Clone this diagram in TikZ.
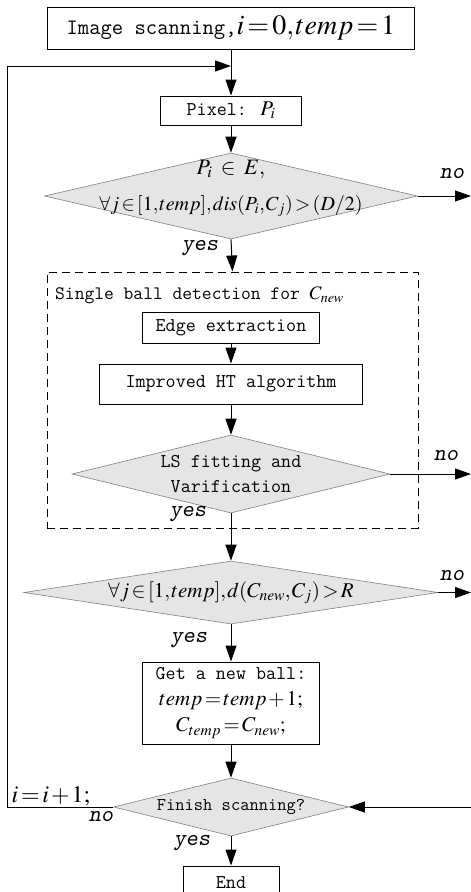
\documentclass[tikz,border=0pt]{standalone}
\usepackage{mathptmx}
\usepackage{fontspec}
\setmainfont{Liberation Serif}
\usetikzlibrary{shapes.geometric,arrows.meta}
\definecolor{decfill}{gray}{0.9}
\thickmuskip=2mu plus 1mu
\medmuskip=1.5mu plus 1mu
\thinmuskip=1mu
\tikzset{
  proc/.style={draw, line width=1pt, rectangle, inner sep=0pt, align=center,
    font=\ttfamily\fontsize{19.5}{26}\selectfont},
  decision/.style={draw=gray, line width=0.6pt, fill=decfill, diamond, inner sep=0pt},
  dtext/.style={align=center, inner sep=0pt},
  arr/.style={line width=1pt, -{Triangle[length=16pt,width=11pt]}},
  ans/.style={inner sep=0pt, font=\ttfamily\slshape\fontsize{23}{23}\selectfont},
}
\begin{document}
\begin{tikzpicture}[x=1pt,y=-1pt]
  \clip (0,0) rectangle (471,892);

  \node[proc, minimum width=367, minimum height=42] (scan) at (231,28)
    {\fontsize{22}{24}\selectfont Image scanning,{\fontsize{28}{28}\selectfont$i=0,temp=1$}};
  \node[proc, minimum width=141, minimum height=29] (pix) at (231,110.5)
    {Pixel: {\fontsize{21}{21}\selectfont$P_i$}};
  \node[decision, minimum width=373, minimum height=86] (chk) at (231,196) {};
  \node[dtext, font=\fontsize{22}{36}\selectfont] (chkt) at (231,188)
    {$P_i\mkern5mu\in\mkern5mu E,$\\ {\fontsize{20}{20}\selectfont$\forall j\in[1,temp],dis(P_i,C_j)>(D/2)$}};
  \node[draw, dashed, dash pattern=on 8pt off 5pt, line width=1pt, inner sep=0pt,
    minimum width=371, minimum height=256] (single) at (232.5,400) {};
  \node[anchor=west, inner sep=0pt, font=\ttfamily\fontsize{19}{20}\selectfont] (singlet) at (55,295)
    {Single ball detection for {\fontsize{19}{19}\selectfont$C_{new}$}};
  \node[proc, minimum width=177, minimum height=31] (edge) at (231,327.5) {Edge extraction};
  \node[proc, minimum width=263, minimum height=40] (imp) at (231,384) {Improved HT algorithm};
  \node[decision, minimum width=318, minimum height=78] (fit) at (231,474) {};
  \node[dtext, font=\ttfamily\fontsize{19.5}{25}\selectfont] (fitt) at (231,474)
    {LS fitting and\\Varification};
  \node[decision, minimum width=414, minimum height=63] (far) at (231,592.5) {};
  \node[dtext, font=\fontsize{21}{21}\selectfont] (fart) at (231,592.5)
    {$\forall j\in[1,temp],d(C_{new},C_j)>R$};
  \node[proc, minimum width=177, minimum height=82] (get) at (231,703)
    {Get a new ball:\\
     {\fontsize{21}{21}\selectfont$temp=temp+1;$}\\
     {\fontsize{21}{21}\selectfont$C_{temp}=C_{new};$}};
  \node[decision, minimum width=235, minimum height=58] (fin) at (231,807) {};
  \node[dtext, font=\ttfamily\fontsize{18}{18}\selectfont] (fint) at (231,807) {Finish scanning?};
  \node[proc, minimum width=96, minimum height=34] (stop) at (231,883) {End};

  \coordinate (join) at (231,66);
  \coordinate (loopl) at (7,807);
  \coordinate (out1) at (471,196);
  \coordinate (out2) at (471,474);
  \coordinate (out3) at (471,592.5);
  \coordinate (back) at (471,807);

  \draw[arr] (scan.south) -- (pix.north);
  \draw[arr] (pix.south) -- (chk.north);
  \draw[arr] (chk.south) -- (single.north);
  \draw[arr] (edge.south) -- (imp.north);
  \draw[arr] (imp.south) -- (fit.north);
  \draw[arr] (fit.south) -- (far.north);
  \draw[arr] (far.south) -- (get.north);
  \draw[arr] (get.south) -- (fin.north);
  \draw[arr] (fin.south) -- (stop.north);
  \draw[arr] (chk.east) -- (out1);
  \draw[arr] (fit.east) -- (out2);
  \draw[arr] (far.east) -- (out3);
  \draw[arr] (back) -- (fin.east);
  \draw[arr] (fin.west) -- (loopl) |- (join);

  \node[ans] (no1) at (452,174) {no};
  \node[ans] (yes1) at (200,248) {yes};
  \node[ans] (no2) at (446,456) {no};
  \node[ans] (yes2) at (188,514) {yes};
  \node[ans] (no3) at (452,575) {no};
  \node[ans] (yes3) at (189,640) {yes};
  \node[ans] (no4) at (101,816) {no};
  \node[ans] (yes4) at (192,843) {yes};
  \node[inner sep=0pt, font=\fontsize{24}{24}\selectfont] (inc) at (51,796) {$i=i+1;$};
\end{tikzpicture}
\end{document}
